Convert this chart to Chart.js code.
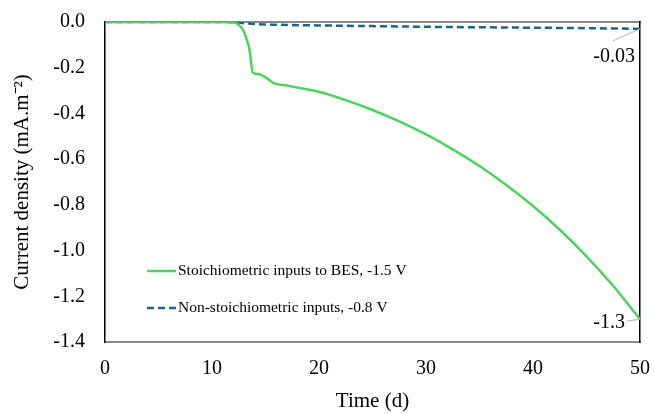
<!DOCTYPE html>
<html>
<head>
<meta charset="utf-8">
<script src="https://cdn.jsdelivr.net/npm/chart.js@4"></script>
<style>
  body { margin: 0; background: #fff; }
  #chart { display: block; }
</style>
</head>
<body>
<canvas id="chart" width="654" height="414"></canvas>
<script>
// Stoichiometric inputs to BES, -1.5 V
const stoichDays = [0, 5, 10, 11.5, 12, 12.5, 12.9, 13.2, 13.5, 13.8, 14.3, 14.8, 15.3, 15.7, 17, 18.2, 20, 22.5, 25, 27.5, 30, 32.5, 35, 37.5, 40, 42.5, 45, 47.5, 50];
const stoichValues = [0, 0, 0, 0, -0.002, -0.012, -0.035, -0.07, -0.12, -0.22, -0.228, -0.237, -0.252, -0.266, -0.278, -0.289, -0.305, -0.342, -0.385, -0.435, -0.492, -0.557, -0.63, -0.713, -0.805, -0.909, -1.025, -1.155, -1.30];

// Non-stoichiometric inputs, -0.8 V
const nonStoichDays = [0, 5, 10, 12, 13, 14, 16, 20, 25, 30, 35, 40, 45, 50];
const nonStoichValues = [0, 0, 0, -0.001, -0.005, -0.009, -0.012, -0.015, -0.018, -0.021, -0.023, -0.025, -0.027, -0.03];

const seriesLabels = ["Stoichiometric inputs to BES, -1.5 V", "Non-stoichiometric inputs, -0.8 V"];
const endLabels = ["-1.3", "-0.03"];

const serif = "'Liberation Serif', 'Times New Roman', serif";

function toPoints(xs, ys) {
    return xs.map((x, i) => ({ x: x, y: ys[i] }));
}

// fixed axis sizes so the plot box lands where the original has it
function fixSize(prop, size) {
    return s => {
        s[prop] = size;
        s.paddingTop = 0; s.paddingBottom = 0;
        s.paddingLeft = 0; s.paddingRight = 0;
    };
}

// legend drawn inside the plot, lower left
const innerLegend = {
    id: "innerLegend",
    afterDraw(chart) {
        const ctx = chart.ctx;
        const rows = [271, 308];
        ctx.save();
        chart.data.datasets.forEach((ds, i) => {
            const y = rows[i];
            ctx.strokeStyle = ds.borderColor;
            ctx.lineWidth = ds.borderWidth;
            ctx.setLineDash(ds.borderDash || []);
            ctx.beginPath();
            ctx.moveTo(147, y);
            ctx.lineTo(176, y);
            ctx.stroke();
            ctx.setLineDash([]);
            ctx.fillStyle = "#000";
            ctx.font = "15.5px " + serif;
            ctx.textBaseline = "middle";
            ctx.textAlign = "left";
            ctx.fillText(ds.label, 178, y);
        });
        ctx.restore();
    }
};

// end value labels with leader lines
const endValueLabels = {
    id: "endValueLabels",
    afterDraw(chart) {
        const ctx = chart.ctx;
        const xs = chart.scales.x, ys = chart.scales.y;
        ctx.save();
        ctx.font = "20px " + serif;
        ctx.fillStyle = "#000";
        ctx.textBaseline = "middle";
        ctx.textAlign = "right";
        ctx.strokeStyle = "#b0b0b0";
        ctx.lineWidth = 1;

        // -1.3
        const x1 = xs.getPixelForValue(stoichDays[stoichDays.length - 1]);
        const y1 = ys.getPixelForValue(stoichValues[stoichValues.length - 1]);
        ctx.beginPath();
        ctx.moveTo(x1, y1);
        ctx.lineTo(x1 - 13, y1 + 2);
        ctx.stroke();
        ctx.fillText(endLabels[0], x1 - 15, y1 + 4);

        // -0.03
        const x2 = xs.getPixelForValue(nonStoichDays[nonStoichDays.length - 1]);
        const y2 = ys.getPixelForValue(nonStoichValues[nonStoichValues.length - 1]);
        ctx.beginPath();
        ctx.moveTo(x2, y2);
        ctx.lineTo(x2 - 27, y2 + 12);
        ctx.stroke();
        ctx.fillText(endLabels[1], x2 - 5, y2 + 28);
        ctx.restore();
    }
};

new Chart(document.getElementById("chart"), {
    type: "line",
    data: {
        datasets: [{
            label: seriesLabels[0],
            data: toPoints(stoichDays, stoichValues),
            borderColor: "#4cd45c",
            borderWidth: 2.5,
            pointRadius: 0,
            cubicInterpolationMode: "monotone",
            fill: false
        }, {
            label: seriesLabels[1],
            data: toPoints(nonStoichDays, nonStoichValues),
            borderColor: "#1f6387",
            borderWidth: 2.5,
            borderDash: [7, 4],
            pointRadius: 0,
            cubicInterpolationMode: "monotone",
            fill: false
        }]
    },
    options: {
        responsive: false,
        animation: false,
        devicePixelRatio: 1,
        layout: { padding: 0 },
        plugins: {
            legend: { display: false },
            tooltip: { enabled: false }
        },
        scales: {
            x: {
                type: "linear",
                min: 0,
                max: 50,
                afterFit: fixSize("height", 72),
                ticks: { stepSize: 10, color: "#000", font: { family: serif, size: 20 }, padding: 15, maxRotation: 0 },
                grid: { display: false, drawTicks: false },
                border: { color: "#8a8a8a", width: 2 },
                title: { display: true, text: "Time (d)", color: "#000", font: { family: serif, size: 21 }, padding: { top: 2, bottom: 0 } }
            },
            x2: {
                type: "linear",
                axis: "x",
                position: "top",
                min: 0,
                max: 50,
                afterFit: fixSize("height", 22),
                ticks: { display: false },
                grid: { display: false, drawTicks: false },
                border: { color: "#8a8a8a", width: 2 }
            },
            y: {
                min: -1.4,
                max: 0,
                afterFit: fixSize("width", 105),
                ticks: {
                    stepSize: 0.2,
                    color: "#000",
                    font: { family: serif, size: 20 },
                    padding: 20,
                    callback: v => (Math.abs(v) < 1e-9 ? "0.0" : v.toFixed(1))
                },
                grid: { display: false, drawTicks: false },
                border: { color: "#000", width: 1.5 },
                title: { display: true, text: "Current density (mA.m\u207B\u00B2)", color: "#000", font: { family: serif, size: 21 }, padding: { top: 10, bottom: 6 } }
            },
            y2: {
                position: "right",
                min: -1.4,
                max: 0,
                afterFit: fixSize("width", 14),
                ticks: { display: false },
                grid: { display: false, drawTicks: false },
                border: { color: "#000", width: 1.5 }
            }
        }
    },
    plugins: [innerLegend, endValueLabels]
});
</script>
</body>
</html>
